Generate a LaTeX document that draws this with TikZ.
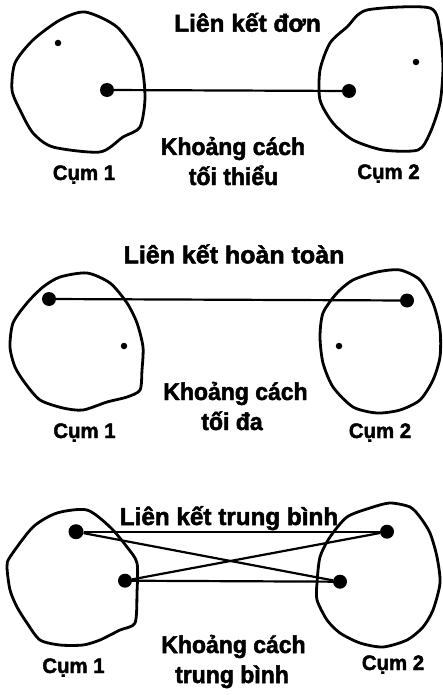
\documentclass[tikz,border=0pt]{standalone}
\usepackage{fontspec}
\setmainfont{Liberation Sans}
\newfontfamily\lbl{Liberation Sans}[FakeBold=2]
\usepackage{graphicx}
\tikzset{
  blob/.style={line width=2.8pt, line join=round},
  link/.style={line width=2.2pt},
  bigdot/.style={circle, fill=black, inner sep=0pt, minimum size=14pt},
  smalldot/.style={circle, fill=black, inner sep=0pt, minimum size=6.5pt},
  title/.style={anchor=base, inner sep=0pt, font=\lbl\bfseries\fontsize{24.5}{29}\selectfont},
  dist/.style={anchor=base, inner sep=0pt, font=\lbl\bfseries\fontsize{24.2}{29}\selectfont},
  cum/.style={anchor=base, inner sep=0pt, font=\lbl\bfseries\fontsize{21}{25}\selectfont},
}
\newcommand{\wide}[2]{\scalebox{#1}[1]{#2}}
\begin{document}
\begin{tikzpicture}[x=1pt,y=-1pt]
\useasboundingbox (0,0) rectangle (443,695);
\fill[white] (0,0) rectangle (443,695);

% ---------------- Panel 1: single link ----------------
\draw[blob] plot[smooth cycle, tension=0.45] coordinates {
  (85,12) (117,27) (140,60) (145,97) (140,127) (123,137) (100,152)
  (53,147) (33,133) (20,110) (12,90) (15,63) (33,40) (60,20)};
\draw[blob] plot[smooth cycle, tension=0.45] coordinates {
  (367,10) (430,8) (440,33) (443,67) (440,103) (430,133) (418,150)
  (383,150) (353,140) (333,123) (320,100) (320,70) (330,43) (347,27)};
\node[smalldot] (a1s) at (58,43) {};
\node[bigdot]   (a1b) at (107,90) {};
\node[smalldot] (a2s) at (416,62) {};
\node[bigdot]   (a2b) at (349,91) {};
\draw[link] (a1b) -- (a2b);
\node[title] (t1) at (247.5,31.7) {\wide{1.0}{Liên kết đơn}};
\node[dist] (d1a) at (233,155) {\wide{0.95}{Khoảng cách}};
\node[dist] (d1b) at (233.5,185) {\wide{0.95}{tối thiểu}};
\node[cum] (c1a) at (84,180) {\wide{0.97}{Cụm 1}};
\node[cum] (c1b) at (388.5,179) {\wide{0.97}{Cụm 2}};

% ---------------- Panel 2: complete link ----------------
\draw[blob] plot[smooth cycle, tension=0.45] coordinates {
  (43,287) (60,277) (87,273) (110,283) (127,303) (137,323) (143,347)
  (142,370) (140,390) (127,397) (107,402) (83,410) (63,408) (40,400)
  (25,383) (15,367) (10,347) (13,323) (27,303)};
\draw[blob] plot[smooth cycle, tension=0.45] coordinates {
  (353,280) (377,272) (400,270) (420,280) (433,303) (440,330) (440,357)
  (433,380) (420,400) (400,410) (377,413) (353,407) (333,387) (323,363)
  (320,337) (323,313) (337,293)};
\node[bigdot]   (b1b) at (49,299) {};
\node[smalldot] (b1s) at (124,346) {};
\node[bigdot]   (b2b) at (407,300.5) {};
\node[smalldot] (b2s) at (339,346) {};
\draw[link] (b1b) -- (b2b);
\node[title] (t2) at (234,263.3) {\wide{1.02}{Liên kết hoàn toàn}};
\node[dist] (d2a) at (235.5,400) {\wide{0.95}{Khoảng cách}};
\node[dist] (d2b) at (232,430) {\wide{0.95}{tối đa}};
\node[cum] (c2a) at (84.5,438) {\wide{0.97}{Cụm 1}};
\node[cum] (c2b) at (380,438) {\wide{0.97}{Cụm 2}};

% ---------------- Panel 3: average link ----------------
\draw[blob] plot[smooth cycle, tension=0.45] coordinates {
  (10,557) (33,527) (57,513) (87,510) (110,527) (127,547) (137,563)
  (137,593) (135,623) (120,630) (100,640) (83,645) (60,645) (40,640)
  (27,623) (17,607) (10,590) (7,567)};
\draw[blob] plot[smooth cycle, tension=0.45] coordinates {
  (370,508) (390,503) (410,507) (420,517) (430,533) (437,557) (440,583)
  (433,610) (423,627) (407,640) (383,647) (360,643) (340,633) (327,620)
  (317,600) (317,583) (320,557) (330,537) (347,517)};
\node[bigdot, minimum size=15pt] (e1t) at (76,531.7) {};
\node[bigdot] (e1l) at (125,580.7) {};
\node[bigdot] (e2t) at (387,531.7) {};
\node[bigdot] (e2l) at (340,581.7) {};
\draw[link] (e1t) -- (e2t);
\draw[link] (e1l) -- (e2l);
\draw[link] (e1t) -- (e2l);
\draw[link] (e1l) -- (e2t);
\node[title] (t3) at (229,525) {\wide{0.99}{Liên kết trung bình}};
\node[dist] (d3a) at (233.5,653) {\wide{0.95}{Khoảng cách}};
\node[dist] (d3b) at (232,683) {\wide{0.95}{trung bình}};
\node[cum] (c3a) at (73.5,673) {\wide{0.97}{Cụm 1}};
\node[cum] (c3b) at (393,670) {\wide{0.97}{Cụm 2}};
\end{tikzpicture}
\end{document}
